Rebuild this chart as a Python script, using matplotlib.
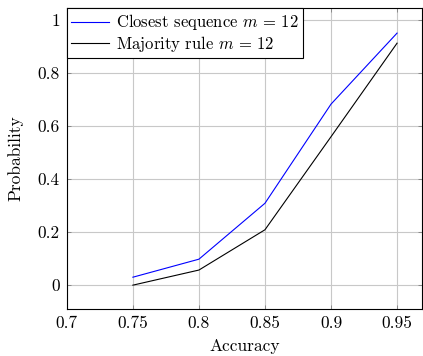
import matplotlib
matplotlib.use("Agg")
import matplotlib.pyplot as plt

plt.rcParams['font.family'] = 'serif'
plt.rcParams['font.serif'] = ['cmr10']
plt.rcParams['mathtext.fontset'] = 'cm'
plt.rcParams['axes.formatter.use_mathtext'] = True

accuracy = [0.75, 0.8, 0.85, 0.9, 0.95]
closest = [0.03, 0.098, 0.309, 0.683, 0.951]
majority = [0.0, 0.057, 0.209, 0.56, 0.913]
xticks = [0.7, 0.75, 0.8, 0.85, 0.9, 0.95]
xlabels = ['0.7', '0.75', '0.8', '0.85', '0.9', '0.95']
yticks = [0, 0.2, 0.4, 0.6, 0.8, 1]
ylabels = ['0', '0.2', '0.4', '0.6', '0.8', '1']

fig = plt.figure(figsize=(4.23, 3.56), dpi=100)
ax = fig.add_axes([0.158, 0.132, 0.84, 0.845])

ax.plot(accuracy, closest, color='blue', lw=0.8, label='Closest sequence $m\\,=\\,12$')
ax.plot(accuracy, majority, color='black', lw=0.8, label='Majority rule $m\\,=\\,12$')

ax.set_xlim(0.7, 0.969)
ax.set_ylim(-0.09, 1.045)
ax.set_xticks(xticks)
ax.set_xticklabels(xlabels)
ax.set_yticks(yticks)
ax.set_yticklabels(ylabels)
ax.grid(True, color='#c8c8c8', lw=0.8)
ax.set_axisbelow(True)
ax.tick_params(direction='in', top=True, right=True, length=3, width=0.6,
               color='#808080', labelsize=12.5, pad=5)
for s in ax.spines.values():
    s.set_linewidth(0.8)

ax.set_xlabel('Accuracy', fontsize=12.5, labelpad=5)
ax.set_ylabel('Probability', fontsize=12.5, labelpad=10)

leg = ax.legend(loc='upper left', fontsize=12, fancybox=False, edgecolor='black',
                framealpha=1, borderaxespad=0, handlelength=2.3, handletextpad=0.4,
                borderpad=0.25, labelspacing=0.1)
leg.get_frame().set_linewidth(0.8)

fig.savefig('out.png', dpi=100)
